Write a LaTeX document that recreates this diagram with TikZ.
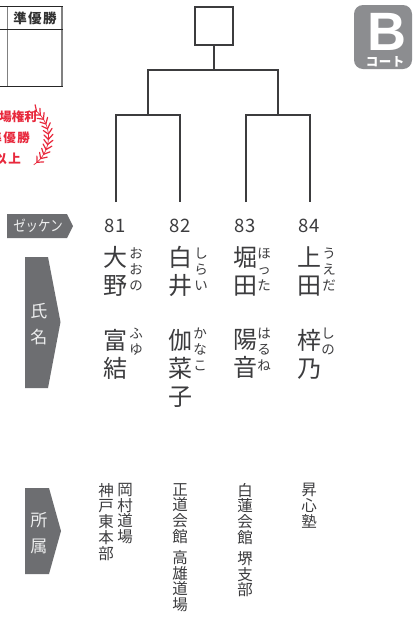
\documentclass[tikz,border=0pt]{standalone}
\usepackage{fontspec}
\setmainfont{Noto Sans CJK JP}
\newfontfamily\latinbold{Liberation Sans}
\definecolor{tagfill}{RGB}{109,110,113}
\definecolor{inkgrey}{RGB}{60,60,62}
\definecolor{badgefill}{RGB}{140,141,144}
\definecolor{redtext}{RGB}{232,40,60}
\lineskiplimit=-100pt
\tikzset{
  bracket/.style={line width=1.8pt,draw=inkgrey,line join=miter},
  tagbox/.style={fill=tagfill,draw=none},
  tagtext/.style={inner sep=0pt,text=white!88!tagfill,align=center,font=\fontsize{17}{26}\selectfont},
  number/.style={inner sep=0pt,text=inkgrey,font=\fontsize{18.5}{20}\selectfont},
  kanji/.style={inner sep=0pt,anchor=north,text=inkgrey,align=center,font=\fontsize{24}{28.3}\selectfont},
  ruby/.style={inner sep=0pt,anchor=north,text=inkgrey,align=center,font=\fontsize{13.5}{16}\selectfont},
  dojo/.style={inner sep=0pt,anchor=north,text=inkgrey,align=center,font=\fontsize{15.5}{15.7}\selectfont},
  redline/.style={inner sep=0pt,anchor=east,text=redtext,font=\bfseries\fontsize{12.5}{15}\selectfont},
}
\begin{document}
\begin{tikzpicture}[x=1pt,y=-1pt]
\clip (0,0) rectangle (413,619);
\fill[white] (0,0) rectangle (413,619);
% table
\draw [line width=1.2pt,gray] (7.5,6)--(7.5,86);
\draw [line width=1.2pt,gray] (62,6)--(62,86);
\draw [line width=0.9pt,black!85] (0,6)--(62.5,6);
\draw [line width=0.9pt,black!85] (0,29)--(62.5,29);
\draw [line width=0.9pt,black!85] (0,86)--(62.5,86);
\node [inner sep=0pt,text=black!80,font=\bfseries\fontsize{13.5}{15}\selectfont] (runnerup) at (35,18) {準\hspace{1.5pt}優\hspace{1.5pt}勝};
% red text and laurel
\node [redline] (redone) at (37,117) {出場権利};
\node [redline] (redtwo) at (30,138) {準\hspace{1.5pt}優\hspace{1.5pt}勝};
\node [redline] (redthree) at (21,159) {以\hspace{1.5pt}上};
\draw [redtext,line width=0.7pt,domain=-54:56,samples=30] plot ({15+33.5*cos(\x)},{137+33.5*sin(\x)});
\foreach \a in {-50,-41,...,55}{
  \draw [redtext,line width=1.2pt,line cap=round] ({15+33.5*cos(\a)},{137+33.5*sin(\a)})--({15+38*cos(\a-8)},{137+38*sin(\a-8)});
  \draw [redtext,line width=1.2pt,line cap=round] ({15+33.5*cos(\a)},{137+33.5*sin(\a)})--({15+29*cos(\a-8)},{137+29*sin(\a-8)});
}
% court badge
\fill [badgefill,rounded corners=9pt] (354,5) rectangle (412,69);
\node [inner sep=0pt,text=white,font=\latinbold\bfseries\fontsize{54}{54}\selectfont] (letterb) at (387,31.5) {B};
\node [inner sep=0pt,text=white,font=\bfseries\fontsize{12.5}{13}\selectfont] (courtname) at (385,62) {コ\hspace{0.5pt}ー\hspace{0.5pt}ト};
% bracket
\node [draw=inkgrey,line width=1.8pt,minimum size=38pt,inner sep=0pt] (champ) at (214,26) {};
\coordinate (topjoin) at (214,70);
\coordinate (leftdrop) at (148,70);
\coordinate (rightdrop) at (278,70);
\coordinate (leftjoin) at (148,115);
\coordinate (rightjoin) at (278,115);
\coordinate (leafa) at (116,115);
\coordinate (leafb) at (180,115);
\coordinate (leafc) at (246,115);
\coordinate (leafd) at (310,115);
\coordinate (enda) at (116,202);
\coordinate (endb) at (180,202);
\coordinate (endc) at (246,202);
\coordinate (endd) at (310,202);
\draw [bracket] (champ.south)--(topjoin);
\draw [bracket] (leftjoin)--(leftdrop)--(rightdrop)--(rightjoin);
\draw [bracket] (enda)--(leafa)--(leafb)--(endb);
\draw [bracket] (endc)--(leafc)--(leafd)--(endd);
% tags
\fill [tagbox] (7,214)--(67,214)--(73,226)--(67,238)--(7,238)--cycle;
\node [tagtext,font=\fontsize{15}{16}\selectfont,xscale=0.83] (tagnumber) at (38,226) {ゼッケン};
\fill [tagbox] (25,257)--(48,257)--(60.5,322)--(48,388)--(25,388)--cycle;
\node [tagtext] (tagname) at (39,324) {氏\\名};
\fill [tagbox] (25,488)--(49,488)--(61,531)--(49,574)--(25,574)--cycle;
\node [tagtext] (tagclub) at (39,533) {所\\属};
% numbers
\node [number] (numa) at (115,226) {81};
\node [number] (numb) at (180,226) {82};
\node [number] (numc) at (245,226) {83};
\node [number] (numd) at (309,226) {84};
% family names
\node [kanji] (fama) at (115,246) {大\\野};
\node [kanji] (famb) at (180,246) {白\\井};
\node [kanji] (famc) at (245,246) {堀\\田};
\node [kanji] (famd) at (309,246) {上\\田};
\node [ruby] (rfama) at (136,248) {お\\お\\の};
\node [ruby] (rfamb) at (201,248) {し\\ら\\い};
\node [ruby] (rfamc) at (264,248) {ほ\\っ\\た};
\node [ruby] (rfamd) at (329,248) {う\\え\\だ};
% given names
\node [kanji] (gina) at (115,329) {富\\結};
\node [kanji] (ginb) at (180,329) {伽\\菜\\子};
\node [kanji] (ginc) at (245,329) {陽\\音};
\node [kanji] (gind) at (309,329) {梓\\乃};
\node [ruby] (rgina) at (136,328) {ふ\\ゆ};
\node [ruby] (rginb) at (200,328) {か\\な\\こ};
\node [ruby] (rginc) at (264,328) {は\\る\\ね};
\node [ruby] (rgind) at (328,328) {し\\の};
% clubs
\node [dojo] (cluba) at (125,483) {岡\\村\\道\\場};
\node [dojo] (clubb) at (106,483) {神\\戸\\東\\本\\部};
\node [dojo] (clubc) at (180,483) {正\\道\\会\\館\\[5.5pt]高\\雄\\道\\場};
\node [dojo] (clubd) at (245,483) {白\\蓮\\会\\館\\[5.5pt]堺\\支\\部};
\node [dojo] (clube) at (309,483) {昇\\心\\塾};
\end{tikzpicture}
\end{document}
